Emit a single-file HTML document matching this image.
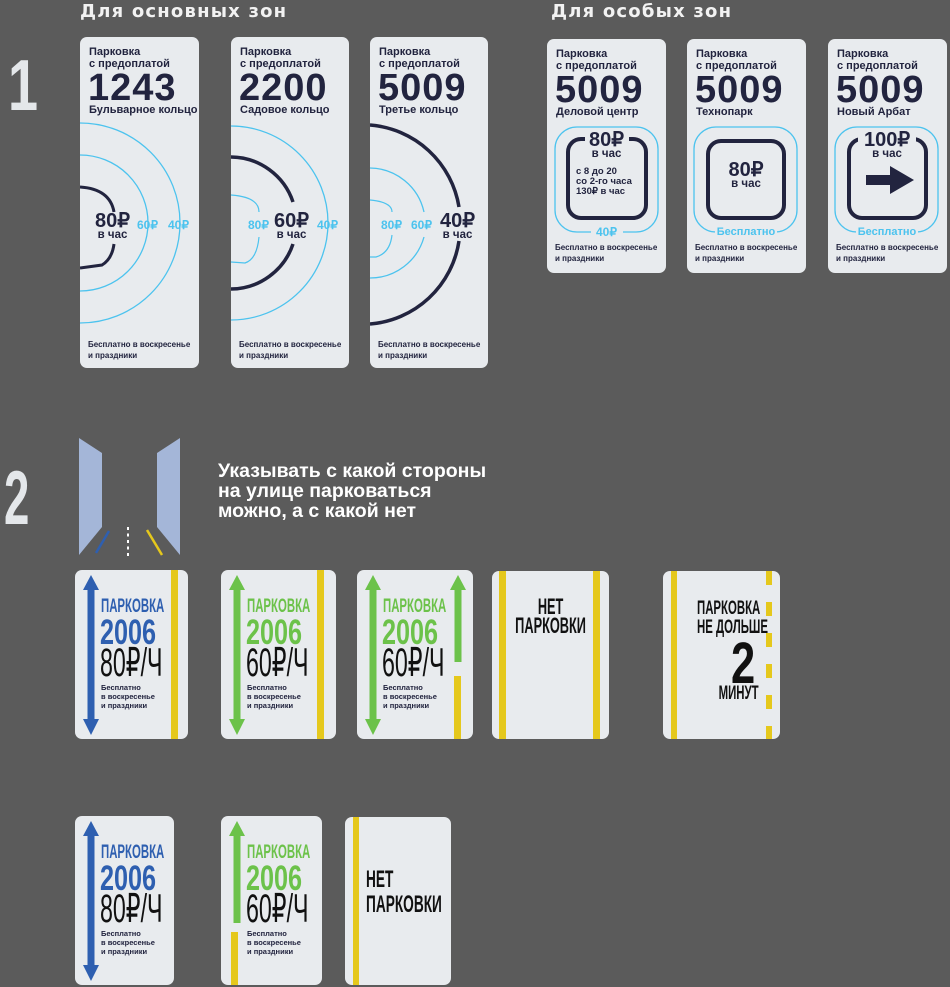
<!DOCTYPE html>
<html><head><meta charset="utf-8">
<style>
*{margin:0;padding:0;box-sizing:border-box}
body{width:950px;height:987px;background:#5b5b5b;position:relative;overflow:hidden;font-family:"Liberation Sans","DejaVu Sans",sans-serif}
.a{position:absolute}
.card{position:absolute;background:#e8ebee;border-radius:7px;overflow:hidden}
.t1{position:absolute;left:9px;top:9px;font:bold 11px/12px "Liberation Sans",sans-serif;color:#22243f}
.num{position:absolute;left:8px;top:32px;font:bold 38px/38px "Liberation Sans",sans-serif;color:#22243f;letter-spacing:1px}
.sub{position:absolute;left:9px;top:67px;font:bold 11px/13px "Liberation Sans",sans-serif;color:#22243f;white-space:nowrap}
.foot{position:absolute;left:8px;font:bold 8px/11px "Liberation Sans",sans-serif;color:#22243f;white-space:nowrap}
.lbl{position:absolute;font:bold 12px/12px "Liberation Sans",sans-serif;color:#4cc3ee;white-space:nowrap}
.big{position:absolute;font:bold 20px/18px "Liberation Sans",sans-serif;color:#22243f;white-space:nowrap;text-align:center}
.big span{display:block;font-size:11.5px;line-height:11px}
.cond{position:absolute;transform-origin:0 0;white-space:nowrap;font-family:"Liberation Sans",sans-serif}
.small{position:absolute;font:bold 7.5px/9px "Liberation Sans",sans-serif;color:#22243f;white-space:nowrap}
.yb{position:absolute;background:#e5c81c}
</style></head><body>

<div class="a" style="left:80px;top:1px;font:bold 18px 'DejaVu Sans',sans-serif;color:#f2f2f2;letter-spacing:1.2px">Для основных зон</div>
<div class="a" style="left:551px;top:1px;font:bold 18px 'DejaVu Sans',sans-serif;color:#f2f2f2;letter-spacing:1.2px">Для особых зон</div>

<div class="cond" style="left:8px;top:50px;font:bold 72px/72px 'Liberation Sans',sans-serif;color:#e4e7ea;transform:scaleX(0.75)">1</div>
<div class="cond" style="left:4px;top:461px;font:bold 76px/76px 'Liberation Sans',sans-serif;color:#e4e7ea;transform:scaleX(0.6)">2</div>

<!-- Card 1 -->
<div class="card" style="left:80px;top:37px;width:119px;height:331px">
<svg class="a" style="left:0;top:0" width="119" height="331">
<circle cx="0" cy="186" r="100" fill="none" stroke="#4cc3ee" stroke-width="1.3"/>
<circle cx="0" cy="186" r="68" fill="none" stroke="#4cc3ee" stroke-width="1.3"/>
<path d="M0,150 Q30,152 34,175 M34,207 Q32,222 22,228 L0,231" fill="none" stroke="#22243f" stroke-width="3"/>
</svg>
<div class="t1">Парковка<br>с предоплатой</div>
<div class="num">1243</div>
<div class="sub">Бульварное кольцо</div>
<div class="big" style="left:15px;top:175px">80₽<span>в час</span></div>
<div class="lbl" style="left:57px;top:182px">60₽</div>
<div class="lbl" style="left:88px;top:182px">40₽</div>
<div class="foot" style="top:302px">Бесплатно в воскресенье<br>и праздники</div>
</div>

<!-- Card 2 -->
<div class="card" style="left:231px;top:37px;width:118px;height:331px">
<svg class="a" style="left:0;top:0" width="118" height="331">
<circle cx="0" cy="186" r="97" fill="none" stroke="#4cc3ee" stroke-width="1.3"/>
<path d="M0,120 A66,66 0 0 1 62,165 M62,207 A66,66 0 0 1 0,252" fill="none" stroke="#22243f" stroke-width="3.5"/>
<path d="M0,158 Q28,160 28,175 M28,200 Q26,222 14,226 L0,225" fill="none" stroke="#4cc3ee" stroke-width="1.2"/>
</svg>
<div class="t1">Парковка<br>с предоплатой</div>
<div class="num">2200</div>
<div class="sub">Садовое кольцо</div>
<div class="lbl" style="left:17px;top:182px">80₽</div>
<div class="big" style="left:43px;top:175px">60₽<span>в час</span></div>
<div class="lbl" style="left:86px;top:182px">40₽</div>
<div class="foot" style="top:302px">Бесплатно в воскресенье<br>и праздники</div>
</div>

<!-- Card 3 -->
<div class="card" style="left:370px;top:37px;width:118px;height:331px">
<svg class="a" style="left:0;top:0" width="118" height="331">
<path d="M0,88 A98,98 0 0 1 89,170 M89,204 A98,98 0 0 1 0,287" fill="none" stroke="#22243f" stroke-width="3.5"/>
<path d="M0,131 A56,56 0 0 1 54,175 M54,200 A56,56 0 0 1 0,241" fill="none" stroke="#4cc3ee" stroke-width="1.3"/>
<path d="M0,163 Q22,165 22,175 M22,198 Q20,216 6,220 L0,220" fill="none" stroke="#4cc3ee" stroke-width="1.2"/>
</svg>
<div class="t1">Парковка<br>с предоплатой</div>
<div class="num">5009</div>
<div class="sub">Третье кольцо</div>
<div class="lbl" style="left:11px;top:182px">80₽</div>
<div class="lbl" style="left:41px;top:182px">60₽</div>
<div class="big" style="left:70px;top:175px">40₽<span>в час</span></div>
<div class="foot" style="top:302px">Бесплатно в воскресенье<br>и праздники</div>
</div>

<!-- Special cards -->
<div class="card" style="left:547px;top:39px;width:119px;height:234px">
<div class="t1">Парковка<br>с предоплатой</div>
<div class="num">5009</div>
<div class="sub">Деловой центр</div>
<svg class="a" style="left:0;top:0" width="119" height="234">
<rect x="8" y="88" width="103" height="105" rx="22" fill="none" stroke="#4cc3ee" stroke-width="1.3"/>
<rect x="21" y="100" width="78" height="79" rx="13" fill="none" stroke="#22243f" stroke-width="4"/>
<rect x="38" y="95" width="44" height="12" fill="#e8ebee"/>
<rect x="44" y="186" width="32" height="12" fill="#e8ebee"/>
</svg>
<div class="big" style="left:0;width:119px;top:92px">80₽<span>в час</span></div>
<div class="small" style="left:29px;top:128px;font-size:9.5px;line-height:10px">с 8 до 20<br>со 2-го часа<br>130₽ в час</div>
<div class="lbl" style="left:0;width:119px;text-align:center;top:187px">40₽</div>
<div class="foot" style="top:203px">Бесплатно в воскресенье<br>и праздники</div>
</div>

<div class="card" style="left:687px;top:39px;width:119px;height:234px">
<div class="t1">Парковка<br>с предоплатой</div>
<div class="num">5009</div>
<div class="sub">Технопарк</div>
<svg class="a" style="left:0;top:0" width="119" height="234">
<rect x="7" y="88" width="103" height="105" rx="22" fill="none" stroke="#4cc3ee" stroke-width="1.3"/>
<rect x="21" y="102" width="76" height="77" rx="13" fill="none" stroke="#22243f" stroke-width="4"/>
<rect x="28" y="186" width="62" height="12" fill="#e8ebee"/>
</svg>
<div class="big" style="left:0;width:118px;top:122px">80₽<span>в час</span></div>
<div class="lbl" style="left:0;width:118px;text-align:center;top:187px;font-size:11px">Бесплатно</div>
<div class="foot" style="top:203px">Бесплатно в воскресенье<br>и праздники</div>
</div>

<div class="card" style="left:828px;top:39px;width:119px;height:234px">
<div class="t1">Парковка<br>с предоплатой</div>
<div class="num">5009</div>
<div class="sub">Новый Арбат</div>
<svg class="a" style="left:0;top:0" width="119" height="234">
<rect x="7" y="88" width="103" height="105" rx="22" fill="none" stroke="#4cc3ee" stroke-width="1.3"/>
<rect x="21" y="100" width="77" height="79" rx="13" fill="none" stroke="#22243f" stroke-width="4"/>
<rect x="30" y="95" width="58" height="12" fill="#e8ebee"/>
<rect x="28" y="186" width="62" height="12" fill="#e8ebee"/>
<polygon points="38,136 62,136 62,127 86,141 62,155 62,146 38,146" fill="#22243f"/>
</svg>
<div class="big" style="left:0;width:118px;top:92px">100₽<span>в час</span></div>
<div class="lbl" style="left:0;width:118px;text-align:center;top:187px;font-size:11px">Бесплатно</div>
<div class="foot" style="top:203px">Бесплатно в воскресенье<br>и праздники</div>
</div>

<!-- Road icon -->
<svg class="a" style="left:0;top:0" width="200" height="570">
<polygon points="79,438 102,453 102,527 79,555" fill="#a4b6d8"/>
<polygon points="180,438 157,453 157,527 180,555" fill="#a4b6d8"/>
<line x1="109" y1="531" x2="96" y2="553" stroke="#2e5fb0" stroke-width="2.5"/>
<line x1="128" y1="527" x2="128" y2="556" stroke="#fff" stroke-width="2" stroke-dasharray="3,3.5"/>
<line x1="147" y1="530" x2="162" y2="555" stroke="#e5c81c" stroke-width="2.5"/>
</svg>
<div class="a" style="left:218px;top:461px;font:bold 19.5px/20px 'Liberation Sans',sans-serif;color:#fff;white-space:nowrap">Указывать с какой стороны<br>на улице парковаться<br>можно, а с какой нет</div>

<!-- Row 2 -->
<div class="card" style="left:75px;top:570px;width:113px;height:169px">
<svg class="a" style="left:0;top:0" width="113" height="169"><polygon points="16,5 24,20 19.5,20 19.5,149 24,149 16,165 8,149 12.5,149 12.5,20 8,20" fill="#2e5fb0"/></svg>
<div class="yb" style="left:96px;top:0;width:7px;height:169px"></div>
<div class="cond" style="left:26px;top:27px;font:bold 19px/19px 'Liberation Sans';color:#2e5fb0;transform:scaleX(0.6)">ПАРКОВКА</div>
<div class="cond" style="left:25px;top:45px;font:bold 35px/35px 'Liberation Sans';color:#2e5fb0;transform:scaleX(0.72)">2006</div>
<div class="cond" style="left:25px;top:73px;font:40px/40px 'Liberation Sans';color:#111;transform:scaleX(0.58)">80₽/Ч</div>
<div class="small" style="left:26px;top:113px">Бесплатно<br>в воскресенье<br>и праздники</div>
</div>

<div class="card" style="left:221px;top:570px;width:115px;height:169px">
<svg class="a" style="left:0;top:0" width="115" height="169"><polygon points="16,5 24,20 19.5,20 19.5,149 24,149 16,165 8,149 12.5,149 12.5,20 8,20" fill="#6cc24a"/></svg>
<div class="yb" style="left:96px;top:0;width:7px;height:169px"></div>
<div class="cond" style="left:26px;top:27px;font:bold 19px/19px 'Liberation Sans';color:#6cc24a;transform:scaleX(0.6)">ПАРКОВКА</div>
<div class="cond" style="left:25px;top:45px;font:bold 35px/35px 'Liberation Sans';color:#6cc24a;transform:scaleX(0.72)">2006</div>
<div class="cond" style="left:25px;top:73px;font:40px/40px 'Liberation Sans';color:#111;transform:scaleX(0.58)">60₽/Ч</div>
<div class="small" style="left:26px;top:113px">Бесплатно<br>в воскресенье<br>и праздники</div>
</div>

<div class="card" style="left:357px;top:570px;width:116px;height:169px">
<svg class="a" style="left:0;top:0" width="116" height="169">
<polygon points="16,5 24,20 19.5,20 19.5,149 24,149 16,165 8,149 12.5,149 12.5,20 8,20" fill="#6cc24a"/>
<polygon points="101,5 109,20 104.5,20 104.5,92 97.5,92 97.5,20 93,20" fill="#6cc24a"/>
</svg>
<div class="yb" style="left:97px;top:106px;width:7px;height:63px"></div>
<div class="cond" style="left:26px;top:27px;font:bold 19px/19px 'Liberation Sans';color:#6cc24a;transform:scaleX(0.6)">ПАРКОВКА</div>
<div class="cond" style="left:25px;top:45px;font:bold 35px/35px 'Liberation Sans';color:#6cc24a;transform:scaleX(0.72)">2006</div>
<div class="cond" style="left:25px;top:73px;font:40px/40px 'Liberation Sans';color:#111;transform:scaleX(0.58)">60₽/Ч</div>
<div class="small" style="left:26px;top:113px">Бесплатно<br>в воскресенье<br>и праздники</div>
</div>

<div class="card" style="left:492px;top:571px;width:117px;height:168px">
<div class="yb" style="left:7px;top:0;width:7px;height:168px"></div>
<div class="yb" style="left:101px;top:0;width:7px;height:168px"></div>
<div class="cond" style="left:0;width:202px;text-align:center;top:26px;font:bold 22px/19px 'Liberation Sans';color:#111;transform:scaleX(0.58)">НЕТ<br>ПАРКОВКИ</div>
</div>

<div class="card" style="left:663px;top:571px;width:117px;height:168px">
<div class="yb" style="left:8px;top:0;width:6px;height:168px"></div>
<svg class="a" style="left:0;top:0" width="117" height="168"><line x1="106" y1="0" x2="106" y2="168" stroke="#e5c81c" stroke-width="6" stroke-dasharray="14,17"/></svg>
<div class="cond" style="left:34px;width:103px;text-align:right;top:28px;font:bold 19px/19px 'Liberation Sans';color:#111;transform:scaleX(0.6)">ПАРКОВКА<br>НЕ ДОЛЬШЕ</div>
<div class="cond" style="left:68px;top:64px;font:bold 58px/58px 'Liberation Sans';color:#111;transform:scaleX(0.75)">2</div>
<div class="cond" style="left:44px;width:86px;text-align:right;top:113px;font:bold 19px/19px 'Liberation Sans';color:#111;transform:scaleX(0.6)">МИНУТ</div>
</div>

<!-- Row 3 -->
<div class="card" style="left:75px;top:816px;width:99px;height:169px">
<svg class="a" style="left:0;top:0" width="99" height="169"><polygon points="16,5 24,20 19.5,20 19.5,149 24,149 16,165 8,149 12.5,149 12.5,20 8,20" fill="#2e5fb0"/></svg>
<div class="cond" style="left:26px;top:27px;font:bold 19px/19px 'Liberation Sans';color:#2e5fb0;transform:scaleX(0.6)">ПАРКОВКА</div>
<div class="cond" style="left:25px;top:45px;font:bold 35px/35px 'Liberation Sans';color:#2e5fb0;transform:scaleX(0.72)">2006</div>
<div class="cond" style="left:25px;top:73px;font:40px/40px 'Liberation Sans';color:#111;transform:scaleX(0.58)">80₽/Ч</div>
<div class="small" style="left:26px;top:113px">Бесплатно<br>в воскресенье<br>и праздники</div>
</div>

<div class="card" style="left:221px;top:816px;width:101px;height:169px">
<svg class="a" style="left:0;top:0" width="101" height="169"><polygon points="16,5 24,20 19.5,20 19.5,107 12.5,107 12.5,20 8,20" fill="#6cc24a"/></svg>
<div class="yb" style="left:10px;top:116px;width:7px;height:53px"></div>
<div class="cond" style="left:26px;top:27px;font:bold 19px/19px 'Liberation Sans';color:#6cc24a;transform:scaleX(0.6)">ПАРКОВКА</div>
<div class="cond" style="left:25px;top:45px;font:bold 35px/35px 'Liberation Sans';color:#6cc24a;transform:scaleX(0.72)">2006</div>
<div class="cond" style="left:25px;top:73px;font:40px/40px 'Liberation Sans';color:#111;transform:scaleX(0.58)">60₽/Ч</div>
<div class="small" style="left:26px;top:113px">Бесплатно<br>в воскресенье<br>и праздники</div>
</div>

<div class="card" style="left:345px;top:817px;width:106px;height:168px">
<div class="yb" style="left:8px;top:0;width:6px;height:168px"></div>
<div class="cond" style="left:21px;top:50px;font:bold 24px/25px 'Liberation Sans';color:#111;transform:scaleX(0.57)">НЕТ<br>ПАРКОВКИ</div>
</div>

</body></html>
